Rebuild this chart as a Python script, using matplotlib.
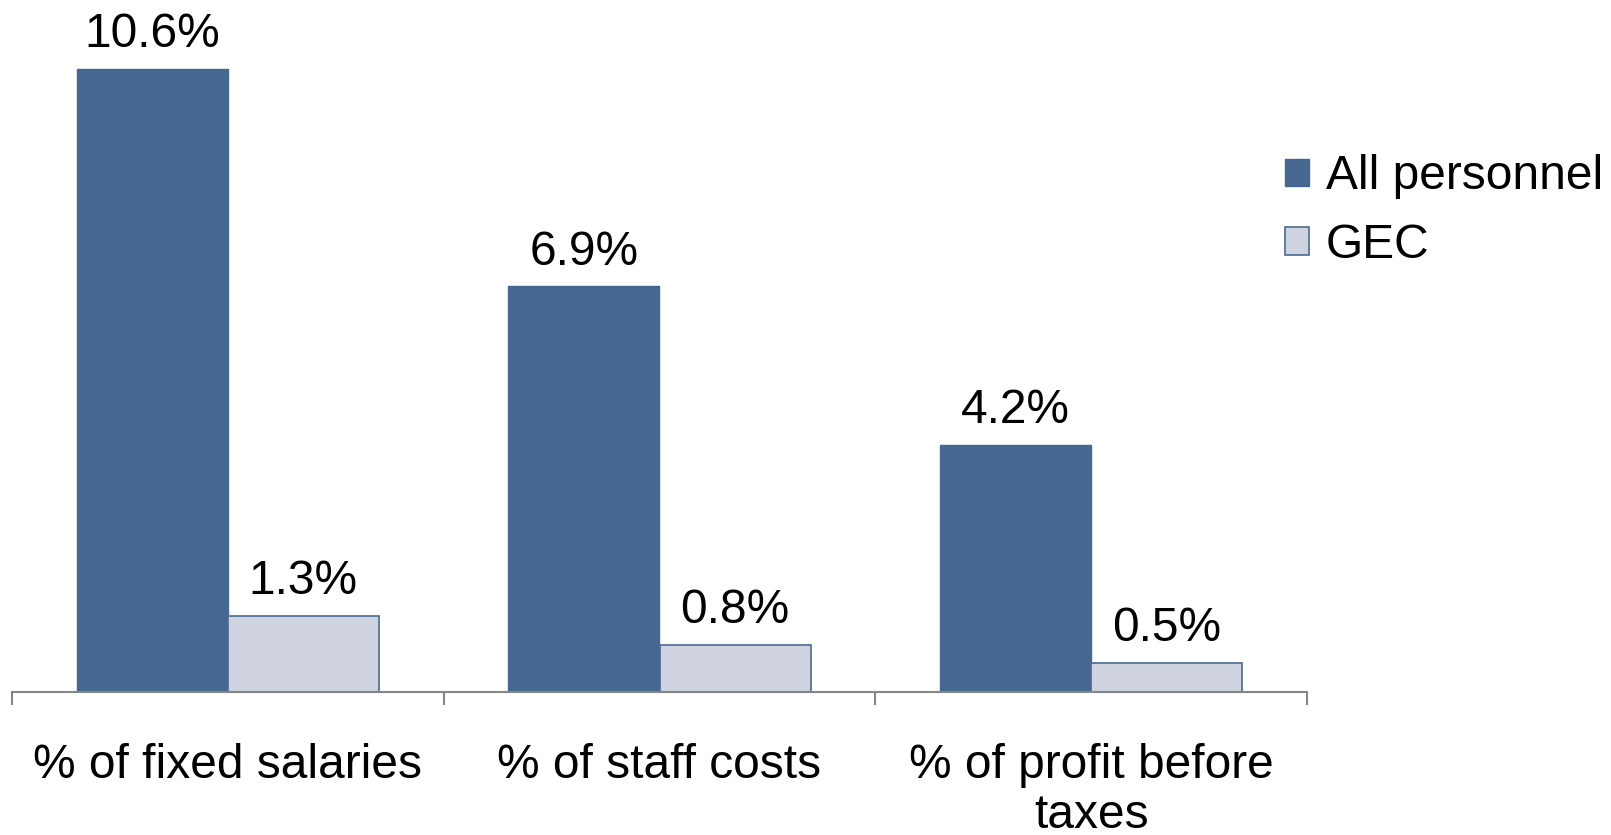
import matplotlib.pyplot as plt
import numpy as np

categories = ['% of fixed salaries', '% of staff costs', '% of profit before\ntaxes']
all_personnel = [10.6, 6.9, 4.2]
gec = [1.3, 0.8, 0.5]

plt.rcParams['font.family'] = ['Liberation Sans', 'DejaVu Sans']
fs = 34.5

fig = plt.figure(figsize=(16.11, 8.35), dpi=100)
ax = fig.add_axes([12/1611, 143/835, 1295/1611, 692/835])

x = np.arange(len(categories))
w = 0.35
b1 = ax.bar(x - w/2, all_personnel, w, color='#46678F', edgecolor='#46678F', linewidth=1, label='All personnel')
b2 = ax.bar(x + w/2, gec, w, color='#CFD3DF', edgecolor='#4A6A94', linewidth=1.2, label='GEC')

for rect, v in zip(list(b1) + list(b2), all_personnel + gec):
    ax.text(rect.get_x() + rect.get_width()/2, v + 0.2, f'{v:.1f}%',
            ha='center', va='bottom', fontsize=fs)

ax.set_xlim(-0.5, 2.5)
ax.set_ylim(0, 11.77)
ax.set_yticks([])
for s in ['top', 'right', 'left']:
    ax.spines[s].set_visible(False)
ax.spines['bottom'].set_color('#868686')
ax.spines['bottom'].set_linewidth(1.5)

# boundary ticks + centered labels
ax.set_xticks([-0.5, 0.5, 1.5, 2.5])
ax.set_xticklabels([])
ax.tick_params(axis='x', which='major', direction='out', length=9, width=1.5, color='#868686')
ax.set_xticks(x, minor=True)
ax.set_xticklabels(categories, minor=True, fontsize=fs, linespacing=1.12)
ax.tick_params(axis='x', which='minor', length=0, pad=37)

fig.legend(handles=[b1, b2], loc='upper left', bbox_to_anchor=(1266/1611, 1 - 135/835),
           frameon=False, fontsize=fs, handlelength=0.5, handleheight=0.5,
           handletextpad=0.35, labelspacing=0.5, borderaxespad=0)

fig.savefig('out.png', dpi=100)
